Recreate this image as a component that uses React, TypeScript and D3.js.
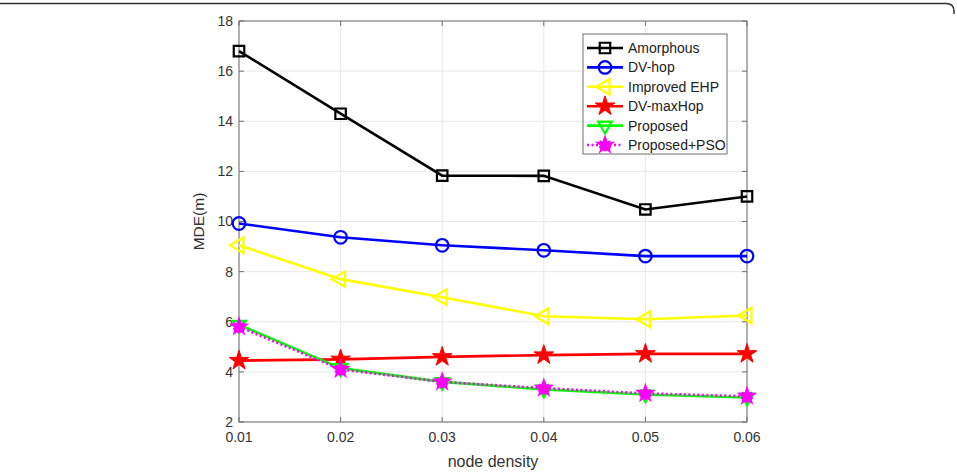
import React from 'react';
import * as d3 from 'd3';

const density = [0.01, 0.02, 0.03, 0.04, 0.05, 0.06];
const amorphous = [16.8, 14.3, 11.83, 11.82, 10.48, 11.0];
const dvHop = [9.92, 9.37, 9.05, 8.85, 8.62, 8.62];
const improvedEHP = [9.05, 7.7, 6.98, 6.22, 6.1, 6.25];
const dvMaxHop = [4.45, 4.5, 4.6, 4.67, 4.72, 4.72];
const proposed = [5.88, 4.15, 3.6, 3.3, 3.1, 2.98];
const proposedPSO = [5.8, 4.1, 3.6, 3.35, 3.14, 3.03];

const xTicks = [0.01, 0.02, 0.03, 0.04, 0.05, 0.06];
const yTicks = [2, 4, 6, 8, 10, 12, 14, 16, 18];

type Mk = 'square' | 'circle' | 'left' | 'star' | 'down' | 'asterisk';

const series: { name: string; values: number[]; color: string; marker: Mk; dash?: string }[] = [
  { name: 'Amorphous', values: amorphous, color: '#000000', marker: 'square' },
  { name: 'DV-hop', values: dvHop, color: '#0000ff', marker: 'circle' },
  { name: 'Improved EHP', values: improvedEHP, color: '#ffff00', marker: 'left' },
  { name: 'DV-maxHop', values: dvMaxHop, color: '#ff0000', marker: 'star' },
  { name: 'Proposed', values: proposed, color: '#00ff00', marker: 'down' },
  { name: 'Proposed+PSO', values: proposedPSO, color: '#ff00ff', marker: 'asterisk', dash: '2,2.5' },
];

const W = 957;
const H = 476;
const plot = { left: 239, right: 747, top: 21, bottom: 422 };
const FONT = '"Liberation Sans", Arial, sans-serif';

function Marker({ type, x, y, color }: { type: Mk; x: number; y: number; color: string }) {
  const tr = (r: number) => `translate(${x},${y}) rotate(${r})`;
  switch (type) {
    case 'square':
      return <path d={d3.symbol(d3.symbolSquare, 110)()!} transform={tr(0)} fill="none" stroke={color} strokeWidth={2.2} />;
    case 'circle':
      return <path d={d3.symbol(d3.symbolCircle, 125)()!} transform={tr(0)} fill="none" stroke={color} strokeWidth={2.2} />;
    case 'left':
      return <path d={d3.symbol(d3.symbolTriangle, 105)()!} transform={tr(-90)} fill="none" stroke={color} strokeWidth={2.2} />;
    case 'star':
      return <path d={d3.symbol(d3.symbolStar, 120)()!} transform={tr(0)} fill={color} stroke={color} strokeWidth={1} />;
    case 'down':
      return <path d={d3.symbol(d3.symbolTriangle, 80)()!} transform={tr(180)} fill="none" stroke={color} strokeWidth={2.2} />;
    case 'asterisk':
      return (
        <g>
          <path d={d3.symbol(d3.symbolStar, 80)()!} transform={tr(0)} fill={color} stroke={color} strokeWidth={1.5} />
          <path d={d3.symbol(d3.symbolAsterisk, 110)()!} transform={tr(0)} fill="none" stroke={color} strokeWidth={3.5} />
        </g>
      );
  }
  return null;
}

export default function App() {
  const x = d3.scaleLinear().domain([0.01, 0.06]).range([plot.left, plot.right]);
  const y = d3.scaleLinear().domain([2, 18]).range([plot.bottom, plot.top]);

  const line = d3
    .line<number>()
    .x((_, i) => x(density[i]))
    .y(d => y(d));

  const axisColor = '#6e6e6e';
  const gridColor = '#e8e8e8';
  const tickLen = 5;

  const legend = { x: 583, y: 34, w: 144, h: 120, rowH: 19.4 };

  return (
    <svg width={W} height={H} style={{ position: 'absolute', left: 0, top: 0, background: '#fff' }}>
      {/* page frame */}
      <path d={`M0,3.5 H946 Q954,3.5 954,11 V14`} fill="none" stroke="#333" strokeWidth={1.5} />

      {/* grid */}
      <g>
        {xTicks.map(t => (
          <line key={'gx' + t} x1={x(t)} x2={x(t)} y1={plot.top} y2={plot.bottom} stroke={gridColor} strokeWidth={1} />
        ))}
        {yTicks.map(t => (
          <line key={'gy' + t} x1={plot.left} x2={plot.right} y1={y(t)} y2={y(t)} stroke={gridColor} strokeWidth={1} />
        ))}
      </g>

      {/* box and ticks */}
      <rect x={plot.left} y={plot.top} width={plot.right - plot.left} height={plot.bottom - plot.top} fill="none" stroke={axisColor} strokeWidth={1} />
      {xTicks.map(t => (
        <g key={'tx' + t}>
          <line x1={x(t)} x2={x(t)} y1={plot.bottom} y2={plot.bottom - tickLen} stroke={axisColor} />
          <line x1={x(t)} x2={x(t)} y1={plot.top} y2={plot.top + tickLen} stroke={axisColor} />
          <text x={x(t)} y={plot.bottom + 20} textAnchor="middle" fontFamily={FONT} fontSize={14} fill="#333">
            {t.toFixed(2)}
          </text>
        </g>
      ))}
      {yTicks.map(t => (
        <g key={'ty' + t}>
          <line x1={plot.left} x2={plot.left + tickLen} y1={y(t)} y2={y(t)} stroke={axisColor} />
          <line x1={plot.right} x2={plot.right - tickLen} y1={y(t)} y2={y(t)} stroke={axisColor} />
          <text x={plot.left - 6} y={y(t)} dy="0.35em" textAnchor="end" fontFamily={FONT} fontSize={14} fill="#333">
            {t}
          </text>
        </g>
      ))}

      {/* axis titles */}
      <text x={(plot.left + plot.right) / 2} y={plot.bottom + 45} textAnchor="middle" fontFamily={FONT} fontSize={16} fill="#333">
        node density
      </text>
      <text
        transform={`translate(${plot.left - 35},${(plot.top + plot.bottom) / 2}) rotate(-90)`}
        textAnchor="middle"
        fontFamily={FONT}
        fontSize={15.5}
        fill="#333"
      >
        MDE(m)
      </text>

      {/* series */}
      {series.map(s => (
        <g key={s.name}>
          <path d={line(s.values)!} fill="none" stroke={s.color} strokeWidth={2.6} strokeDasharray={s.dash} />
          {s.values.map((v, i) => (
            <Marker key={i} type={s.marker} x={x(density[i])} y={y(v)} color={s.color} />
          ))}
        </g>
      ))}

      {/* legend */}
      <g>
        <rect x={legend.x} y={legend.y} width={legend.w} height={legend.h} fill="#fff" stroke={axisColor} strokeWidth={1} />
        {series.map((s, i) => {
          const cy = legend.y + 14 + i * legend.rowH;
          return (
            <g key={'lg' + s.name}>
              <line x1={legend.x + 4} x2={legend.x + 40} y1={cy} y2={cy} stroke={s.color} strokeWidth={2.6} strokeDasharray={s.dash} />
              <Marker type={s.marker} x={legend.x + 22} y={cy} color={s.color} />
              <text x={legend.x + 45} y={cy} dy="0.35em" fontFamily={FONT} fontSize={14} fill="#222">
                {s.name}
              </text>
            </g>
          );
        })}
      </g>
    </svg>
  );
}
